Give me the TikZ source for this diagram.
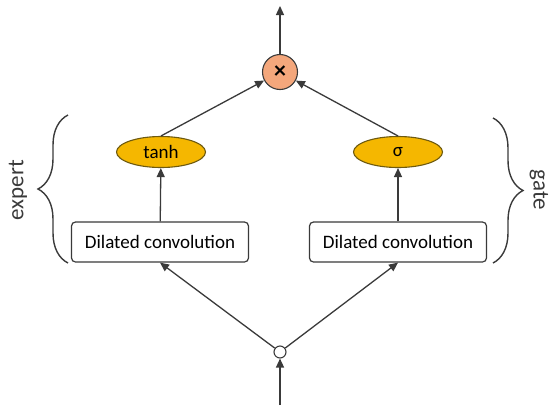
\documentclass[tikz,border=0pt]{standalone}
\usepackage{fontspec}
\setmainfont{Carlito}
\usetikzlibrary{shapes.geometric,arrows.meta,decorations.pathreplacing}
\definecolor{gold}{HTML}{F5B700}
\definecolor{goldline}{HTML}{6E5A10}
\definecolor{salmon}{HTML}{F4A77C}
\definecolor{ink}{HTML}{3A3A3A}
\tikzset{
  conv/.style={draw=ink, line width=1.2pt, rounded corners=4pt, minimum width=177pt,
    minimum height=40pt, inner sep=0pt, font=\fontsize{19}{21}\selectfont, fill=white},
  act/.style={ellipse, draw=goldline, line width=1.1pt, fill=gold, minimum width=89pt,
    minimum height=31pt, inner sep=0pt, font=\fontsize{19}{21}\selectfont},
  mult/.style={circle, draw=ink, line width=1.1pt, fill=salmon, minimum size=35pt,
    inner sep=0pt, font=\bfseries\fontsize{24}{26}\selectfont},
  split/.style={circle, draw=ink, line width=1.1pt, fill=white, minimum size=12pt, inner sep=0pt},
  flow/.style={draw=ink, line width=1.3pt, -{Triangle[length=9pt,width=8pt]}},
  brace/.style={draw=ink, line width=1.4pt, decorate, decoration={brace, amplitude=30pt}},
  side/.style={font=\fontsize{23}{25}\selectfont, text=ink}
}
\begin{document}
\begin{tikzpicture}[x=1pt, y=-1pt]
  \useasboundingbox (0,0) rectangle (551,405);
  % input split and product
  \node[split] (in) at (280,352) {};
  \node[mult] (prod) at (280,72) {×};
  % two branches
  \node[conv] (convL) at (160,242) {Dilated convolution};
  \node[conv] (convR) at (398,242) {Dilated convolution};
  \node[act] (tanh) at (161,152) {tanh};
  \node[act] (sig) at (398,152) {σ};
  \coordinate (src) at (280,405);
  \coordinate (out) at (280,6);
  % connectors
  \draw[flow] (src) -- (in);
  \draw[flow] (in) -- (convL.south);
  \draw[flow] (in) -- (convR.south);
  \draw[flow] (convL) -- (tanh);
  \draw[flow] (convR) -- (sig);
  \draw[flow] (tanh.north) -- (prod);
  \draw[flow] (sig.north) -- (prod);
  \draw[flow] (prod) -- (out);
  % braces and side labels
  \coordinate (lb) at (68,263);
  \coordinate (lt) at (68,115);
  \coordinate (rt) at (493,118);
  \coordinate (rb) at (493,263);
  \draw[brace] (lb) -- (lt);
  \draw[brace] (rt) -- (rb);
  \node[side, rotate=90] (expert) at (18,190) {expert};
  \node[side, rotate=-90] (gate) at (539,190) {gate};
\end{tikzpicture}
\end{document}
